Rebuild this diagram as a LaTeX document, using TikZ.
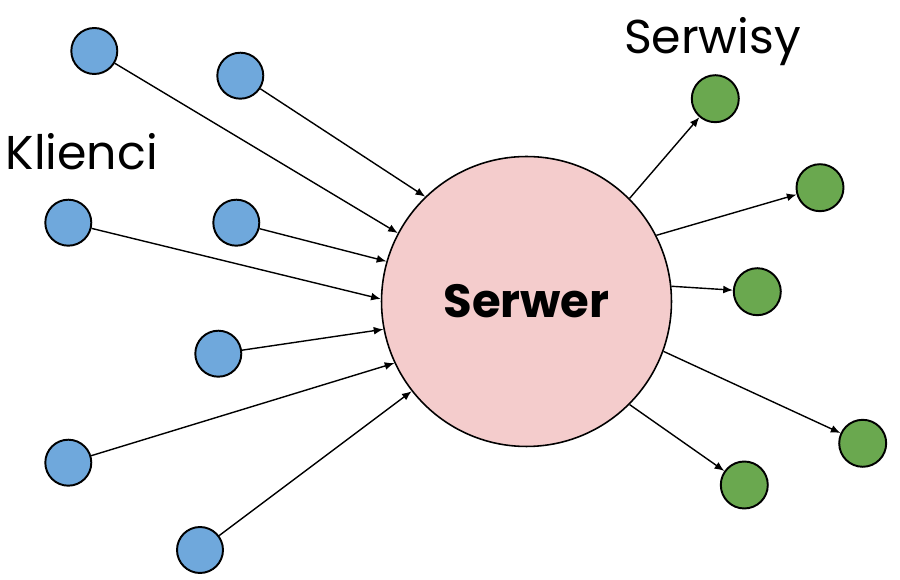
\documentclass[tikz,border=0pt]{standalone}
\usepackage{fontspec}
\setmainfont{Poppins}
\usepackage{tikz}
\usetikzlibrary{positioning, arrows.meta}

\begin{document}
\begin{tikzpicture}[
        x=0.02cm, y=-0.02cm,
        every node/.style={font=\fontsize{27}{33}\selectfont},
        client/.style={circle, draw=black, fill=clientblue, line width=1.1pt, minimum size=0.92cm, inner sep=0pt},
        service/.style={circle, draw=black, fill=servicegreen, line width=1.1pt, minimum size=0.94cm, inner sep=0pt},
        server/.style={circle, draw=black, fill=serverpink, line width=0.9pt, minimum size=5.8cm, inner sep=0pt, font=\fontsize{26.5}{32}\selectfont\bfseries},
        label/.style={anchor=base, inner sep=0pt},
        edge/.style={-{Latex[length=5.5pt, width=4.5pt]}, line width=0.8pt}
    ]
        \definecolor{clientblue}{HTML}{6FA8DC}
        \definecolor{servicegreen}{HTML}{6AA84F}
        \definecolor{serverpink}{HTML}{F4CCCC}
        \useasboundingbox (0,0) rectangle (900,580);
        % Server
        \node[server] (srv) at (526.5,301.5) {Serwer};
        % Clients
        \node[client] (cl1) at (94.3,51) {};
        \node[client] (cl2) at (240.3,75.7) {};
        \node[client] (cl3) at (68.3,222.7) {};
        \node[client] (cl4) at (236.3,222.7) {};
        \node[client] (cl5) at (218.3,353.7) {};
        \node[client] (cl6) at (68.3,462.7) {};
        \node[client] (cl7) at (200,550) {};
        % Services
        \node[service] (svc1) at (715.3,98.7) {};
        \node[service] (svc2) at (820,187.7) {};
        \node[service] (svc3) at (757.3,291.7) {};
        \node[service] (svc4) at (862.7,443.3) {};
        \node[service] (svc5) at (744.3,485) {};
        % Labels
        \node[label] (lblcl) at (81.7,170) {Klienci};
        \node[label] (lblsvc) at (712.5,54) {Serwisy};
        % Edges: clients to server
        \draw[edge] (cl1) -- (srv.152.4);
        \draw[edge] (cl2) -- (srv.134.5);
        \draw[edge] (cl3) -- (srv.179.4);
        \draw[edge] (cl4) -- (srv.164.1);
        \draw[edge] (cl5) -- (srv.191.6);
        \draw[edge] (cl6) -- (srv.205.2);
        \draw[edge] (cl7) -- (srv.218);
        % Edges: server to services
        \draw[edge] (srv.45.8) -- (svc1);
        \draw[edge] (srv.27.4) -- (svc2);
        \draw[edge] (srv.6.7) -- (svc3);
        \draw[edge] (srv.-20.3) -- (svc4);
        \draw[edge] (srv.-45.9) -- (svc5);
    \end{tikzpicture}
\end{document}
